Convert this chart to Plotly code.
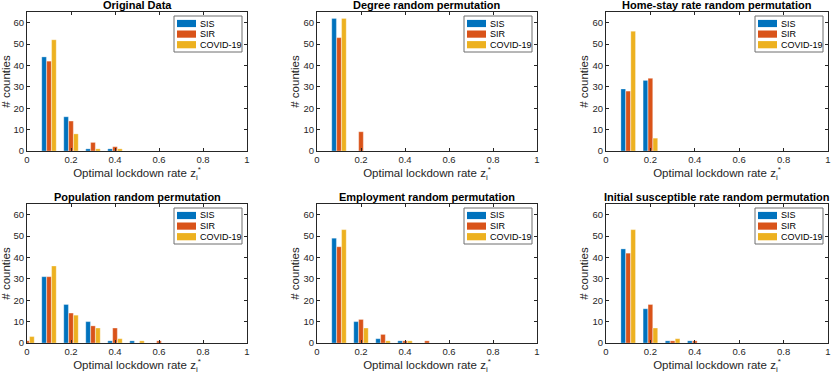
import plotly.graph_objects as go

# histogram bin centres (optimal lockdown rate)
BINS = [0.0, 0.1, 0.2, 0.3, 0.4, 0.5, 0.6]

MODELS = ['SIS', 'SIR', 'COVID-19']
COLORS = {'SIS': '#0072BD', 'SIR': '#D95319', 'COVID-19': '#EDB120'}

ORIG_SIS = [0, 44, 16, 1, 1, 0, 0]
ORIG_SIR = [0, 42, 14, 4, 2, 0, 0]
ORIG_COVID = [0, 52, 8, 1, 1, 0, 0]

DEGREE_SIS = [0, 62, 0, 0, 0, 0, 0]
DEGREE_SIR = [0, 53, 9, 0, 0, 0, 0]
DEGREE_COVID = [0, 62, 0, 0, 0, 0, 0]

HOME_SIS = [0, 29, 33, 0, 0, 0, 0]
HOME_SIR = [0, 28, 34, 0, 0, 0, 0]
HOME_COVID = [0, 56, 6, 0, 0, 0, 0]

POP_SIS = [0, 31, 18, 10, 1, 1, 0]
POP_SIR = [1, 31, 14, 8, 7, 0, 1]
POP_COVID = [3, 36, 13, 7, 2, 1, 0]

EMP_SIS = [0, 49, 10, 2, 1, 0, 0]
EMP_SIR = [0, 45, 11, 4, 1, 1, 0]
EMP_COVID = [0, 53, 7, 1, 1, 0, 0]

INIT_SIS = [0, 44, 16, 1, 1, 0, 0]
INIT_SIR = [0, 42, 18, 1, 1, 0, 0]
INIT_COVID = [0, 53, 7, 2, 0, 0, 0]

PANELS = [
    ('Original Data', ORIG_SIS, ORIG_SIR, ORIG_COVID),
    ('Degree random permutation', DEGREE_SIS, DEGREE_SIR, DEGREE_COVID),
    ('Home-stay rate random permutation', HOME_SIS, HOME_SIR, HOME_COVID),
    ('Population random permutation', POP_SIS, POP_SIR, POP_COVID),
    ('Employment random permutation', EMP_SIS, EMP_SIR, EMP_COVID),
    ('Initial susceptible rate random permutation', INIT_SIS, INIT_SIR, INIT_COVID),
]

W, H = 831, 376
FONT = 'Liberation Sans, Arial, sans-serif'
AXIS_COLOR = '#262626'

# axes boxes in pixels: (left, right) per column, (top, bottom) per row
COLS = [(27, 247), (317, 537), (606, 828)]
ROWS = [(12, 151), (204, 343)]
TITLE_Y = [5, 197]

fig = go.Figure()
layout = {}
shapes = []

for k, (title, sis, sir, cov) in enumerate(PANELS):
    n = k + 1
    sfx = '' if n == 1 else str(n)
    col = COLS[k % 3]
    row = ROWS[k // 3]

    for name, vals in zip(MODELS, (sis, sir, cov)):
        fig.add_trace(go.Bar(
            x=BINS, y=vals, name=name, showlegend=False,
            marker=dict(color=COLORS[name], line=dict(width=0.5, color='rgba(255,255,255,0.6)')),
            xaxis='x' + sfx, yaxis='y' + sfx,
            hovertemplate=name + ': %{y}<extra></extra>'
        ))

    layout['xaxis' + sfx] = dict(
        domain=[col[0] / W, col[1] / W], anchor='y' + sfx,
        range=[0, 1], tickvals=[0, 0.2, 0.4, 0.6, 0.8, 1],
        ticktext=['0', '0.2', '0.4', '0.6', '0.8', '1'],
        ticks='inside', ticklen=3, tickcolor=AXIS_COLOR,
        showline=True, linecolor=AXIS_COLOR, linewidth=1, mirror='ticks',
        showgrid=False, zeroline=False,
        tickfont=dict(size=9.5, color=AXIS_COLOR),
        title=dict(text='Optimal lockdown rate z<sub>i</sub><sup>*</sup>',
                   font=dict(size=11.5, color=AXIS_COLOR), standoff=2),
    )
    layout['yaxis' + sfx] = dict(
        domain=[1 - row[1] / H, 1 - row[0] / H], anchor='x' + sfx,
        range=[0, 65], tickvals=[0, 10, 20, 30, 40, 50, 60],
        ticks='inside', ticklen=3, tickcolor=AXIS_COLOR,
        showline=True, linecolor=AXIS_COLOR, linewidth=1, mirror='ticks',
        showgrid=False, zeroline=False,
        tickfont=dict(size=9.5, color=AXIS_COLOR),
        title=dict(text='# counties', font=dict(size=11.5, color=AXIS_COLOR), standoff=1),
    )

    # legend box in the top-right corner of each panel
    shapes.append(dict(
        type='rect', xref='paper', yref='paper',
        x0=(col[1] - 73) / W, x1=(col[1] - 5) / W,
        y0=1 - (row[0] + 40) / H, y1=1 - (row[0] + 4) / H,
        line=dict(color='#6e6e6e', width=1), fillcolor='white', layer='above',
    ))
    for i, name in enumerate(MODELS):
        yc = row[0] + 11.5 + 10.6 * i
        shapes.append(dict(
            type='rect', xref='paper', yref='paper',
            x0=(col[1] - 70) / W, x1=(col[1] - 51) / W,
            y0=1 - (yc + 3.6) / H, y1=1 - (yc - 3.6) / H,
            line=dict(width=0), fillcolor=COLORS[name], layer='above',
        ))
        fig.add_annotation(
            text=name, xref='paper', yref='paper',
            x=(col[1] - 49) / W, y=1 - yc / H,
            xanchor='left', yanchor='middle', showarrow=False,
            font=dict(size=9, color='black'),
        )

    fig.add_annotation(
        text='<b>' + title + '</b>', xref='paper', yref='paper',
        x=(col[0] + col[1]) / 2 / W, y=1 - TITLE_Y[k // 3] / H,
        xanchor='center', yanchor='middle', showarrow=False,
        font=dict(size=11, color='black'),
    )

fig.update_layout(
    width=W, height=H,
    margin=dict(l=0, r=0, t=0, b=0, autoexpand=False),
    paper_bgcolor='white', plot_bgcolor='white',
    font=dict(family=FONT),
    barmode='group', bargap=0.33, bargroupgap=0.06,
    showlegend=False,
    shapes=shapes,
    **layout
)

# page body has a default 8px margin; drop it so the figure fills the window
fig.write_html('out.html', config={'displayModeBar': False},
               post_script="document.body.style.margin='0px';")
